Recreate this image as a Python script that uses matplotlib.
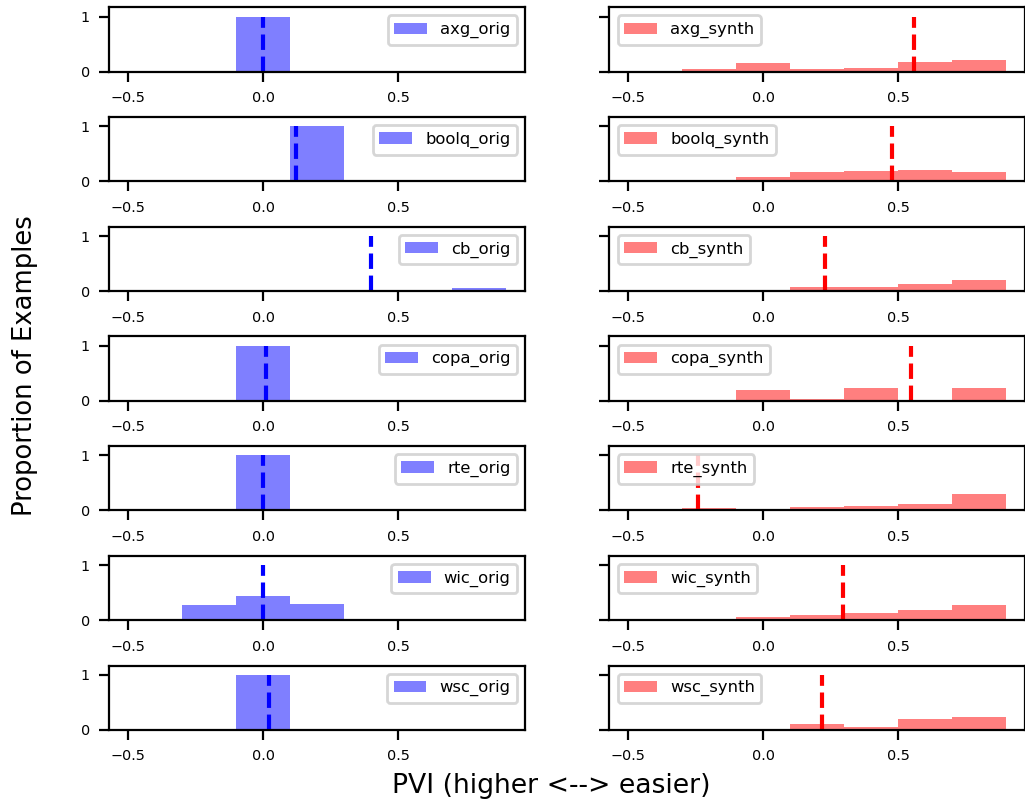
import numpy as np
import matplotlib
matplotlib.use("Agg")
import matplotlib.pyplot as plt

# ---- data ----
tasks = ["axg", "boolq", "cb", "copa", "rte", "wic", "wsc"]
bin_edges = [-0.5, -0.3, -0.1, 0.1, 0.3, 0.5, 0.7, 0.9]

orig_axg   = [0.0, 0.0, 1.0, 0.0, 0.0, 0.0, 0.0]
orig_boolq = [0.0, 0.0, 0.0, 1.0, 0.0, 0.0, 0.0]
orig_cb    = [0.0, 0.02, 0.0, 0.02, 0.0, 0.0, 0.065]
orig_copa  = [0.0, 0.0, 1.0, 0.0, 0.0, 0.0, 0.0]
orig_rte   = [0.0, 0.0, 1.0, 0.0, 0.0, 0.0, 0.0]
orig_wic   = [0.0, 0.27, 0.44, 0.30, 0.0, 0.0, 0.0]
orig_wsc   = [0.0, 0.0, 1.0, 0.0, 0.0, 0.0, 0.0]

synth_axg   = [0.0, 0.04, 0.15, 0.04, 0.06, 0.18, 0.21]
synth_boolq = [0.0, 0.0, 0.075, 0.165, 0.18, 0.21, 0.17]
synth_cb    = [0.02, 0.0, 0.025, 0.075, 0.075, 0.13, 0.21]
synth_copa  = [0.0, 0.0, 0.205, 0.025, 0.24, 0.0, 0.24]
synth_rte   = [0.02, 0.04, 0.022, 0.07, 0.085, 0.11, 0.30]
synth_wic   = [0.02, 0.03, 0.06, 0.10, 0.13, 0.19, 0.27]
synth_wsc   = [0.0, 0.0, 0.025, 0.11, 0.05, 0.205, 0.24]

orig_means  = [0.0, 0.12, 0.40, 0.01, 0.0, 0.0, 0.02]
synth_means = [0.556, 0.475, 0.228, 0.547, -0.243, 0.296, 0.216]

orig_hists = [orig_axg, orig_boolq, orig_cb, orig_copa, orig_rte, orig_wic, orig_wsc]
synth_hists = [synth_axg, synth_boolq, synth_cb, synth_copa, synth_rte, synth_wic, synth_wsc]

# ---- figure ----
W, H = 1025, 799
fig = plt.figure(figsize=(W / 200, H / 200), dpi=200)

def frac_rect(x0, top, w, h):
    return [x0 / W, 1 - (top + h) / H, w / W, h / H]

xlim = (-0.57, 0.97)
row_top0 = 7.3
row_step = 109.7
ax_h = 64.4
ax_w = 416.0
col_x = [109.3, 609.4]

centers = [(a + b) / 2 for a, b in zip(bin_edges[:-1], bin_edges[1:])]

for i, t in enumerate(tasks):
    top = row_top0 + i * row_step
    for j in range(2):
        ax = fig.add_axes(frac_rect(col_x[j], top, ax_w, ax_h))
        if j == 0:
            vals, mean, col, lab, loc = orig_hists[i], orig_means[i], "blue", f"{t}_orig", "upper right"
        else:
            vals, mean, col, lab, loc = synth_hists[i], synth_means[i], "red", f"{t}_synth", "upper left"
        ax.hist(centers, bins=bin_edges, weights=vals, color=col, alpha=0.5, label=lab)
        ax.vlines(mean, 0, 1, colors=col, linestyles="--", linewidth=1.5)
        ax.set_xlim(*xlim)
        ax.set_ylim(0, 1.17)
        ax.set_yticks([0, 1])
        ax.set_xticks([-0.5, 0.0, 0.5])
        ax.tick_params(labelsize=5.2)
        if j == 1:
            ax.set_yticklabels([])
        ax.legend(loc=loc, fontsize=5.9)

fig.text(551.5 / W, 1 - 786 / H, "PVI (higher <--> easier)", ha="center", va="center", fontsize=9.6)
fig.text(25 / W, 1 - 366 / H, "Proportion of Examples", ha="center", va="center",
         rotation=90, fontsize=9.3)

fig.savefig("out.png", dpi=200)
